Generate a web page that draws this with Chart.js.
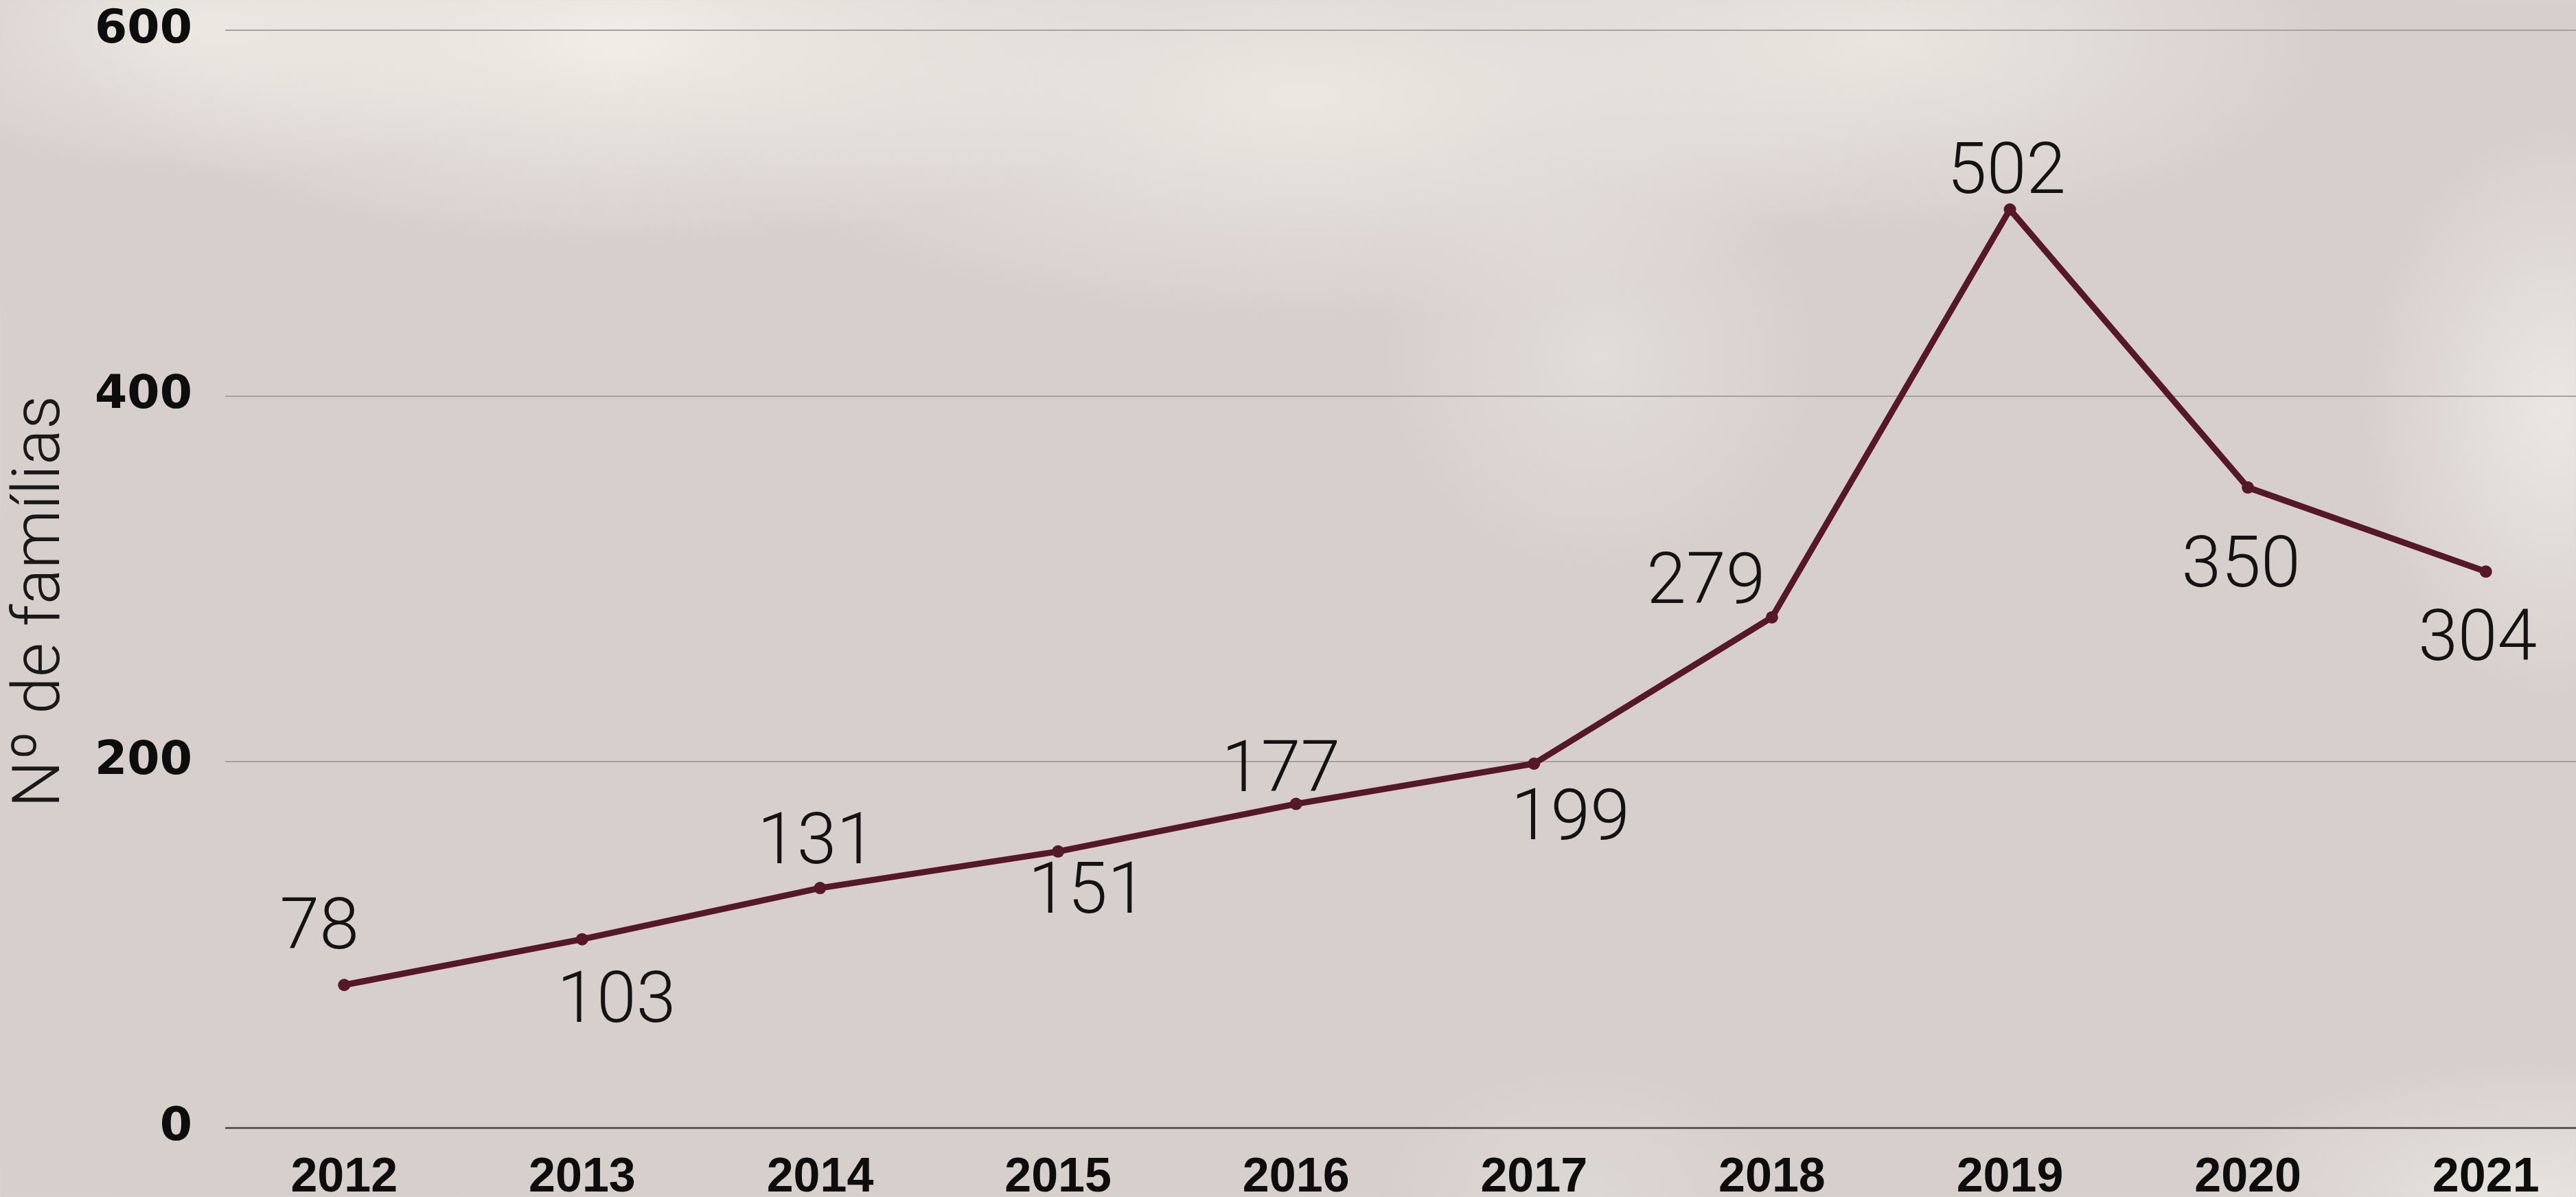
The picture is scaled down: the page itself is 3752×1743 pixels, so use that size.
<!DOCTYPE html>
<html>
<head>
<meta charset="utf-8">
<script src="https://cdn.jsdelivr.net/npm/chart.js@4.4.0/dist/chart.umd.min.js"></script>
<style>
  html, body {
    margin: 0;
    padding: 0;
    width: 3752px;
    height: 1743px;
    overflow: hidden;
  }
  body {
    background-color: #d7cfcc;
    background-image:
      radial-gradient(ellipse 800px 300px at 900px 60px, rgba(241,240,231,0.95), rgba(241,240,231,0) 100%),
      radial-gradient(ellipse 900px 330px at 1900px 140px, rgba(237,235,227,0.9), rgba(237,235,227,0) 100%),
      radial-gradient(ellipse 650px 280px at 2750px 60px, rgba(236,234,226,0.85), rgba(236,234,226,0) 100%),
      radial-gradient(ellipse 500px 220px at 300px 40px, rgba(237,234,227,0.85), rgba(237,234,227,0) 100%),
      radial-gradient(ellipse 280px 420px at 3720px 600px, rgba(236,234,228,0.9), rgba(236,234,228,0) 100%),
      radial-gradient(ellipse 320px 320px at 2330px 520px, rgba(232,230,224,0.6), rgba(232,230,224,0) 100%),
      radial-gradient(ellipse 500px 200px at 3700px 1743px, rgba(234,233,226,0.8), rgba(234,233,226,0) 100%),
      radial-gradient(ellipse 300px 200px at 2300px 1743px, rgba(226,224,218,0.5), rgba(226,224,218,0) 100%);
  }
  #wrap {
    position: absolute;
    left: 0;
    top: 0;
    width: 3803px;
    height: 1743px;
  }
</style>
</head>
<body>
<div id="wrap"><canvas id="grafica"></canvas></div>
<script>
const anos = ['2012', '2013', '2014', '2015', '2016', '2017', '2018', '2019', '2020', '2021']
const familias = [78, 103, 131, 151, 177, 199, 279, 502, 350, 304]
const ticksY = [0, 200, 400, 600]
const tituloY = 'Nº de famílias'

// desplazamiento de cada etiqueta respecto a su punto (px)
const desplazamientos = [
  [-36, -89], [50, 84], [-5, -72], [43, 53], [-22, -55],
  [53, 74], [-96, -57], [-5, -60], [-10, 108], [-12, 93]
]

const etiquetas = {
  id: 'etiquetas',
  afterDatasetsDraw(chart) {
    const ctx = chart.ctx
    const meta = chart.getDatasetMeta(0)
    ctx.save()
    ctx.font = '300 104px Roboto, "Liberation Sans", sans-serif'
    ctx.fillStyle = '#141213'
    ctx.textAlign = 'center'
    ctx.textBaseline = 'middle'
    meta.data.forEach((pt, i) => {
      const d = desplazamientos[i]
      // +10: los numeros quedan algo altos con baseline middle
      ctx.fillText(String(familias[i]), pt.x + d[0], pt.y + d[1] + 10)
    })
    ctx.restore()
  }
}

// titulo del eje y, un poco mas abajo que el centro del area
const titulo = {
  id: 'titulo',
  afterDraw(chart) {
    const ctx = chart.ctx
    const area = chart.chartArea
    ctx.save()
    ctx.translate(62, (area.top + area.bottom) / 2 + 33)
    ctx.rotate(-Math.PI / 2)
    ctx.font = '300 97px Roboto, "Liberation Sans", sans-serif'
    ctx.fillStyle = '#1a1819'
    ctx.textAlign = 'center'
    ctx.textBaseline = 'middle'
    ctx.fillText(tituloY, 0, 0)
    ctx.restore()
  }
}

window.addEventListener('DOMContentLoaded', () => {
  const ctx = document.getElementById('grafica').getContext('2d')
  new Chart(ctx, {
    type: 'line',
    data: {
      labels: anos,
      datasets: [{
        label: tituloY,
        data: familias,
        borderColor: '#561827',
        backgroundColor: '#561827',
        borderWidth: 9,
        pointRadius: 9,
        pointBorderWidth: 0,
        tension: 0
      }]
    },
    options: {
      responsive: true,
      maintainAspectRatio: false,
      animation: false,
      layout: { padding: { top: 44, left: 0, right: 0, bottom: 0 } },
      plugins: {
        legend: { display: false },
        tooltip: { enabled: false }
      },
      scales: {
        x: {
          offset: true,
          grid: { display: false },
          border: { display: false },
          ticks: {
            color: '#0d0d0d',
            padding: 24,
            maxRotation: 0,
            font: { family: '"Liberation Sans", Arial, sans-serif', size: 70, weight: 'bold' }
          },
          afterFit: (s) => { s.height = 101 }
        },
        y: {
          min: 0,
          max: 600,
          afterBuildTicks: (s) => { s.ticks = ticksY.map(v => ({ value: v })) },
          grid: {
            drawTicks: false,
            lineWidth: (c) => c.tick && c.tick.value === 0 ? 3 : 2,
            color: (c) => c.tick && c.tick.value === 0 ? '#5e5856' : '#a7a19f'
          },
          border: { display: false },
          ticks: {
            color: '#0d0d0d',
            padding: 48,
            font: { family: '"DejaVu Sans", sans-serif', size: 68, weight: 'bold' }
          },
          afterFit: (s) => {
            s.width = 328
            s.paddingTop = 0
            s.paddingBottom = 0
          }
        }
      }
    },
    plugins: [etiquetas, titulo]
  })
})
</script>
</body>
</html>
